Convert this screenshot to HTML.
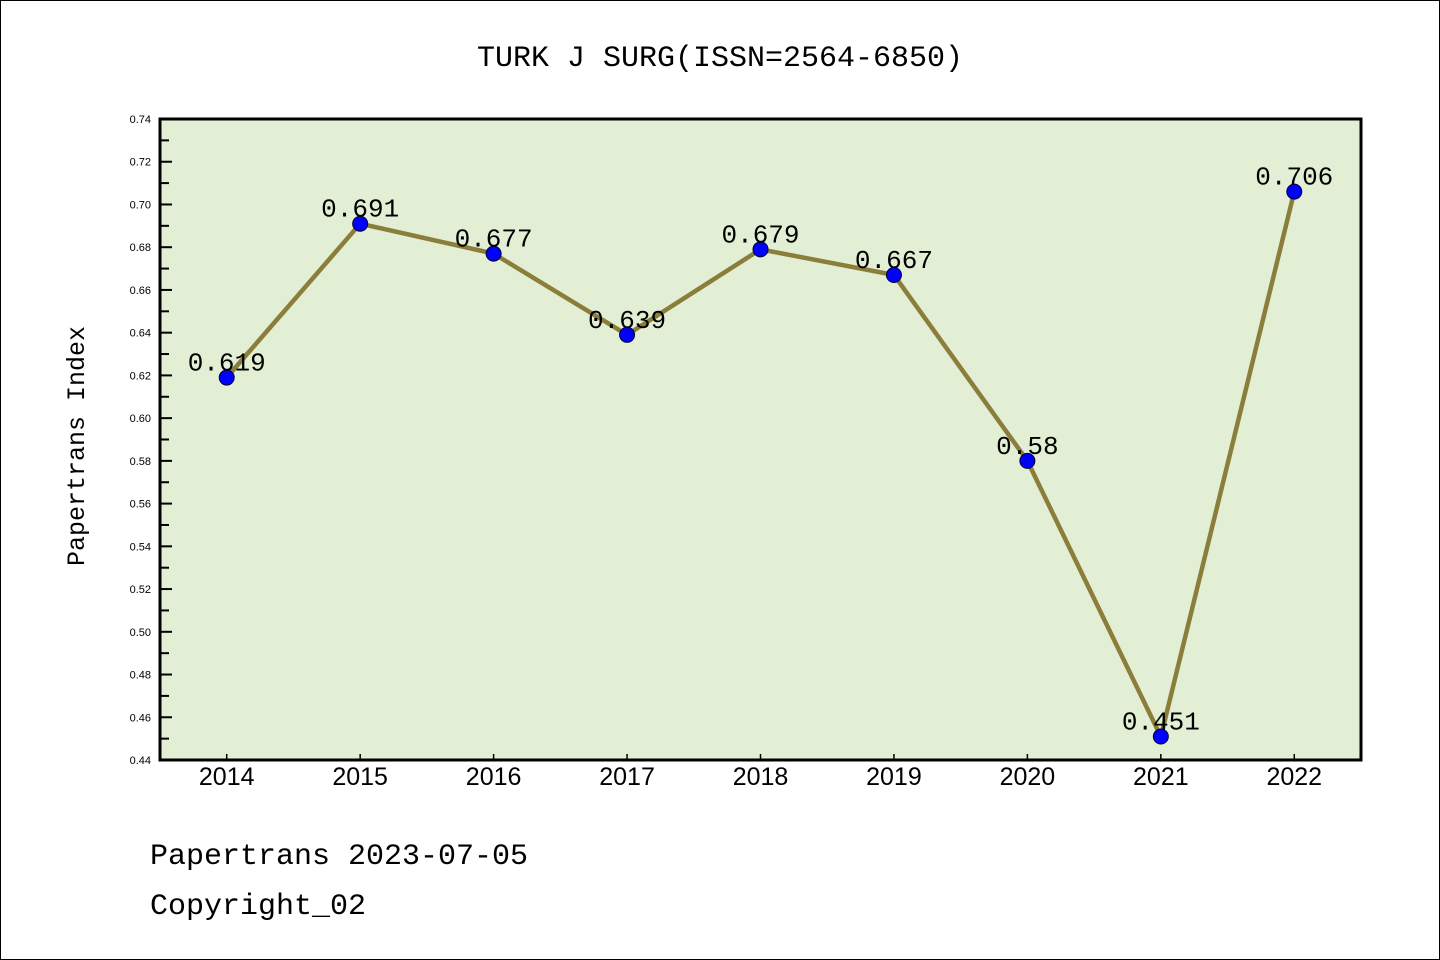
<!DOCTYPE html>
<html><head><meta charset="utf-8"><style>
html,body{margin:0;padding:0;background:#fff}
svg{display:block}
</style></head><body>
<svg id="chart" width="1440" height="960" xmlns="http://www.w3.org/2000/svg">
<rect x="0.5" y="0.5" width="1439" height="959" fill="#fff" stroke="#000" stroke-width="1"/>
<text x="720" y="66" text-anchor="middle" font-family="Liberation Mono, monospace" font-size="30">TURK J SURG(ISSN=2564-6850)</text>
<rect x="160" y="119" width="1201" height="641" fill="#e2efd5"/>
<g id="ticks"></g>
<g id="series"></g>
<rect x="160" y="119" width="1201" height="641" fill="none" stroke="#000" stroke-width="3"/>
<text transform="translate(84,446) rotate(-90)" text-anchor="middle" font-family="Liberation Mono, monospace" font-size="25">Papertrans Index</text>
<text x="150" y="864" font-family="Liberation Mono, monospace" font-size="30">Papertrans 2023-07-05</text>
<text x="150" y="914" font-family="Liberation Mono, monospace" font-size="30">Copyright_02</text>
</svg>
<script>
const years = ['2014','2015','2016','2017','2018','2019','2020','2021','2022'];
const values = [0.619,0.691,0.677,0.639,0.679,0.667,0.58,0.451,0.706];
const valueLabels = ['0.619','0.691','0.677','0.639','0.679','0.667','0.58','0.451','0.706'];
const yTicks = [0.44,0.46,0.48,0.50,0.52,0.54,0.56,0.58,0.60,0.62,0.64,0.66,0.68,0.70,0.72,0.74];
const yMin = 0.44, yMax = 0.74;
const L=160,R=1361,T=119,B=760;
const NS='http://www.w3.org/2000/svg';
function xs(i){return L+(i+0.5)*(R-L)/years.length;}
function ys(v){return B-(v-yMin)/(yMax-yMin)*(B-T);}
function mk(tag,attrs,parent){const e=document.createElementNS(NS,tag);for(const k in attrs)e.setAttribute(k,attrs[k]);parent.appendChild(e);return e;}
const tg=document.getElementById('ticks'), sg=document.getElementById('series');
yTicks.forEach((t,i)=>{
  const y=ys(t);
  const ln=mk('line',{x1:L,x2:L+12,y1:y,y2:y,stroke:'#000','stroke-width':2},tg);
  
  
  const tx=mk('text',{x:L-9,y:y+4,'text-anchor':'end','font-family':'Liberation Sans, sans-serif','font-size':11},tg);
  tx.textContent=t.toFixed(2);
  
  
  if(i<yTicks.length-1){
    const ym=ys(t+0.01);
    const mn=mk('line',{x1:L,x2:L+9,y1:ym,y2:ym,stroke:'#000','stroke-width':2},tg);
    
    
  }
});
years.forEach((yr,i)=>{
  const x=xs(i);
  const ln=mk('line',{x1:x,x2:x,y1:B,y2:B-6,stroke:'#000','stroke-width':1.5},tg);
  
  
  const tx=mk('text',{x:x,y:785,'text-anchor':'middle','font-family':'Liberation Sans, sans-serif','font-size':25},tg);
  tx.textContent=yr;
  
  
});
const pts=values.map((v,i)=>xs(i)+','+ys(v)).join(' ');
const pl=mk('polyline',{points:pts,fill:'none',stroke:'#8b7d3a','stroke-width':4.5,'stroke-linejoin':'round'},sg);


values.forEach((v,i)=>{
  const c=mk('circle',{cx:xs(i),cy:ys(v),r:7.5,fill:'#0000ff',stroke:'#000033','stroke-width':1},sg);
  
  
});
values.forEach((v,i)=>{
  const t=mk('text',{x:xs(i),y:ys(v)-7,'text-anchor':'middle','font-family':'Liberation Mono, monospace','font-size':26},sg);
  t.textContent=valueLabels[i];
  
  
});
</script>
</body></html>
